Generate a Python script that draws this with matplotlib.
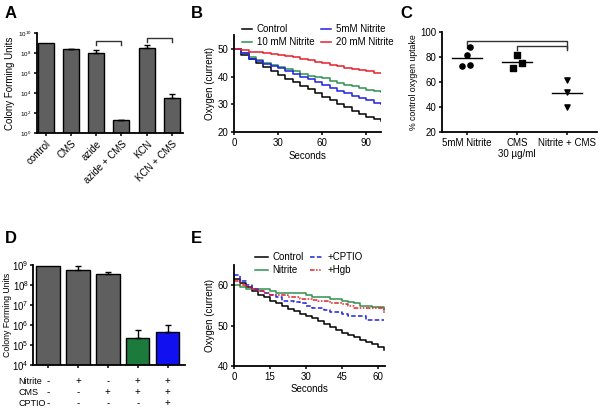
import matplotlib
matplotlib.use("Agg")
import matplotlib.pyplot as plt
import numpy as np
from matplotlib.ticker import LogLocator, LogFormatterMathtext, NullLocator

plt.rcParams['font.family'] = ['Liberation Sans', 'DejaVu Sans']
plt.rcParams['axes.linewidth'] = 1.3
plt.rcParams['xtick.major.width'] = 1.1
plt.rcParams['ytick.major.width'] = 1.1
plt.rcParams['xtick.major.size'] = 2.5
plt.rcParams['ytick.major.size'] = 2.5

# ---- data ----
# Panel A
a_labels = ['control', 'CMS', 'azide', 'azide + CMS', 'KCN', 'KCN + CMS']
a_values = [1.0e9, 2.5e8, 1.0e8, 20, 3.0e8, 3.0e3]
a_err_top = [1.0e9, 2.8e8, 2.0e8, 22, 6.0e8, 8.0e3]

# Panel B (values every 5 s)
b_time = list(range(0, 101, 5))
b_control = [50, 48, 46.5, 45, 43.5, 42, 40.6, 39.2, 38, 36.7, 35.4, 34, 32.8, 31.6, 30.3, 29, 27.8, 26.6, 25.6, 24.8, 24.2]
b_5mm = [50, 48.5, 46.5, 45.5, 44.5, 43.8, 43, 42, 41, 40, 39, 38, 37, 36, 35, 34, 33.2, 32.3, 31.5, 30.5, 30]
b_10mm = [50, 48.5, 47, 46, 45, 44.3, 43.6, 42.8, 42, 41, 40.2, 39.8, 39.4, 38.5, 37.8, 37, 36.5, 35.8, 35.2, 34.8, 34.5]
b_20mm = [50, 49.5, 49, 49, 48.5, 48.3, 47.8, 47.3, 47, 46.5, 46, 45.3, 44.8, 44.3, 43.8, 43.3, 42.8, 42.4, 42.2, 41.5, 41.2]

# Panel C
c_labels = ['5mM Nitrite', 'CMS\n30 \u00b5g/ml', 'Nitrite + CMS']
c_nitrite = [88, 82, 73, 74]
c_cms = [82, 75, 71]
c_both = [62, 52, 40]
c_means = [79, 76, 51]

# Panel D
d_values = [9.3e8, 6.0e8, 3.5e8, 2.2e5, 4.7e5]
d_err_top = [9.3e8, 8.9e8, 4.7e8, 5.6e5, 1.07e6]
d_colors = ['#5f5f5f', '#5f5f5f', '#5f5f5f', '#1c7a3c', '#1010f0']
d_rows = ['Nitrite', 'CMS', 'CPTIO']
d_table = [['-', '+', '-', '+', '+'],
           ['-', '-', '+', '+', '+'],
           ['-', '-', '-', '-', '+']]

# Panel E (values every 2.5 s)
e_time = [i * 2.5 for i in range(26)]
e_control = [61.5, 60.5, 59.5, 58.5, 57.5, 57, 56.2, 55.5, 54.8, 54.2, 53.6, 53, 52.4, 51.8, 51.1, 50.4, 49.7, 49,
             48.3, 47.7, 47.1, 46.5, 46.0, 45.4, 44.8, 44.0]
e_nitrite = [60, 59.5, 59, 59, 59, 59, 58.5, 58, 58, 58, 58, 58, 57.5, 57, 57, 57, 56.5, 56.5, 56, 55.8, 55.5, 55,
             55, 54.7, 54.7, 54]
e_cptio = [62.5, 61, 60, 59, 58.5, 58, 57.5, 57, 56, 56, 55.8, 55.5, 55, 54.5, 54.5, 54, 53.5, 53.5, 53, 52.5,
           52.5, 52.5, 51.5, 51.5, 51.5, 51.5]
e_hgb = [61, 60, 59.5, 59, 58.5, 58, 57.5, 57.5, 57.5, 57, 57, 56.5, 56.5, 56.3, 56, 56, 55.5, 55.5, 55.3, 55,
         54.5, 54.5, 54.4, 54.4, 54.3, 53]

fs = 7
lfs = 7
fig = plt.figure(figsize=(6, 4.08), dpi=100)


def prism(ax):
    ax.spines['top'].set_visible(False)
    ax.spines['right'].set_visible(False)
    ax.tick_params(labelsize=fs, pad=1.5)


def bracket(ax, x0, x1, y, drop):
    ax.plot([x0, x0, x1, x1], [y - drop, y, y, y - drop], color='#333333', lw=1.0, clip_on=False)


# ---- A ----
ax = fig.add_axes([0.062, 0.674, 0.243, 0.245])
xa = np.arange(len(a_labels))
ax.bar(xa, a_values, width=0.64, color='#5f5f5f', edgecolor='black', lw=1.0)
for i in range(len(xa)):
    if a_err_top[i] > a_values[i]:
        ax.errorbar(xa[i], a_values[i], yerr=[[0], [a_err_top[i] - a_values[i]]], color='black',
                    lw=1.0, capsize=2.5, capthick=1.0)
ax.set_yscale('log')
ax.set_ylim(1, 1e10)
ax.set_xlim(-0.35, 5.45)
ax.yaxis.set_major_locator(LogLocator(base=100))
ax.yaxis.set_major_formatter(LogFormatterMathtext(base=10))
ax.yaxis.set_minor_locator(NullLocator())
ax.set_xticks(xa)
ax.set_xticklabels(a_labels, rotation=45, ha='right', rotation_mode='anchor', fontsize=6)
prism(ax)
ax.tick_params(axis='y', labelsize=4.5)
ax.set_ylabel('Colony Forming Units', fontsize=fs, labelpad=2)
bracket(ax, 2, 3, 10 ** 9.2, 10 ** 9.2 - 10 ** 8.8)
bracket(ax, 4, 5, 10 ** 9.5, 10 ** 9.5 - 10 ** 9.1)
fig.text(0.008, 0.955, 'A', fontsize=12, fontweight='bold')

# ---- B ----
ax = fig.add_axes([0.39, 0.676, 0.245, 0.238])
ax.plot(b_time, b_control, drawstyle='steps-post', color='black', lw=1.1, label='Control')
ax.plot(b_time, b_10mm, drawstyle='steps-post', color='#2e9150', lw=1.1, label='10 mM Nitrite')
ax.plot(b_time, b_5mm, drawstyle='steps-post', color='#1f1fe0', lw=1.1, label='5mM Nitrite')
ax.plot(b_time, b_20mm, drawstyle='steps-post', color='#e5202a', lw=1.1, label='20 mM Nitrite')
ax.set_xlim(0, 100)
ax.set_ylim(20, 55)
ax.set_xticks([0, 30, 60, 90])
ax.set_yticks([20, 30, 40, 50])
prism(ax)
ax.set_xlabel('Seconds', fontsize=fs, labelpad=2)
ax.set_ylabel('Oxygen (current)', fontsize=fs, labelpad=2)
ax.legend(ncol=2, loc='upper left', bbox_to_anchor=(0.055, 1.11), frameon=False, fontsize=lfs,
          handlelength=1.0, columnspacing=0.7, labelspacing=0.3, borderaxespad=0, borderpad=0,
          handletextpad=0.5)
fig.text(0.318, 0.955, 'B', fontsize=12, fontweight='bold')

# ---- C ----
ax = fig.add_axes([0.737, 0.676, 0.258, 0.245])
groups = [c_nitrite, c_cms, c_both]
markers = ['o', 's', 'v']
offsets = [[0.05, 0.0, -0.1, 0.05], [0.0, 0.1, -0.08], [0.0, 0.0, 0.0]]
for i, vals in enumerate(groups):
    xs = [i + offsets[i][j] for j in range(len(vals))]
    ax.scatter(xs, vals, marker=markers[i], color='black', s=14, zorder=3)
    ax.plot([i - 0.3, i + 0.3], [c_means[i], c_means[i]], color='black', lw=1.0)
ax.set_xlim(-0.5, 2.6)
ax.set_ylim(20, 100)
ax.set_yticks([20, 40, 60, 80, 100])
ax.set_xticks([0, 1, 2])
ax.set_xticklabels(c_labels)
prism(ax)
ax.set_ylabel('% control oxygen uptake', fontsize=6.3, labelpad=2)
bracket(ax, 0, 2, 93.3, 6)
bracket(ax, 1, 2, 89.3, 3.5)
fig.text(0.668, 0.955, 'C', fontsize=12, fontweight='bold')

# ---- D ----
ax = fig.add_axes([0.055, 0.105, 0.253, 0.245])
xd = np.arange(len(d_values))
ax.bar(xd, d_values, width=0.78, color=d_colors, edgecolor='black', lw=1.0)
for i in range(len(xd)):
    if d_err_top[i] > d_values[i]:
        ax.errorbar(xd[i], d_values[i], yerr=[[0], [d_err_top[i] - d_values[i]]], color='black',
                    lw=1.0, capsize=2.5, capthick=1.0)
ax.set_yscale('log')
ax.set_ylim(1e4, 1e9)
ax.set_xlim(-0.5, 4.57)
ax.yaxis.set_major_locator(LogLocator(base=10))
ax.yaxis.set_major_formatter(LogFormatterMathtext(base=10))
ax.yaxis.set_minor_locator(NullLocator())
ax.set_xticks(xd)
ax.set_xticklabels([])
prism(ax)
ax.tick_params(axis='y', pad=0.5)
ax.set_ylabel('Colony Forming Units', fontsize=6.3, labelpad=0.5)
for r, name in enumerate(d_rows):
    yy = -0.16 - r * 0.11
    ax.text(-0.095, yy, name, transform=ax.transAxes, fontsize=6.5, va='center')
    for c in range(len(xd)):
        ax.text(xd[c], yy, d_table[r][c], transform=ax.get_xaxis_transform(), fontsize=fs,
                ha='center', va='center')
fig.text(0.008, 0.405, 'D', fontsize=12, fontweight='bold')

# ---- E ----
ax = fig.add_axes([0.39, 0.103, 0.252, 0.247])
ax.plot(e_time, e_control, drawstyle='steps-post', color='black', lw=1.1, label='Control')
ax.plot(e_time, e_nitrite, drawstyle='steps-post', color='#2e9150', lw=1.1, label='Nitrite')
ax.plot(e_time, e_cptio, drawstyle='steps-post', color='#2020e0', lw=1.1, ls=(0, (3, 1.5)), label='+CPTIO')
ax.plot(e_time, e_hgb, drawstyle='steps-post', color='#e5202a', lw=1.1, ls=(0, (3, 1, 1, 1, 1, 1)), label='+Hgb')
ax.set_xlim(0, 63)
ax.set_ylim(40, 65)
ax.set_xticks([0, 15, 30, 45, 60])
ax.set_yticks([40, 50, 60])
prism(ax)
ax.set_xlabel('Seconds', fontsize=fs, labelpad=2)
ax.set_ylabel('Oxygen (current)', fontsize=fs, labelpad=2)
ax.legend(ncol=2, loc='upper left', bbox_to_anchor=(0.14, 1.13), frameon=False, fontsize=lfs,
          handlelength=1.3, columnspacing=0.6, labelspacing=0.3, borderaxespad=0, borderpad=0,
          handletextpad=0.5)
fig.text(0.318, 0.405, 'E', fontsize=12, fontweight='bold')

fig.savefig('out.png', dpi=100, facecolor='white')
